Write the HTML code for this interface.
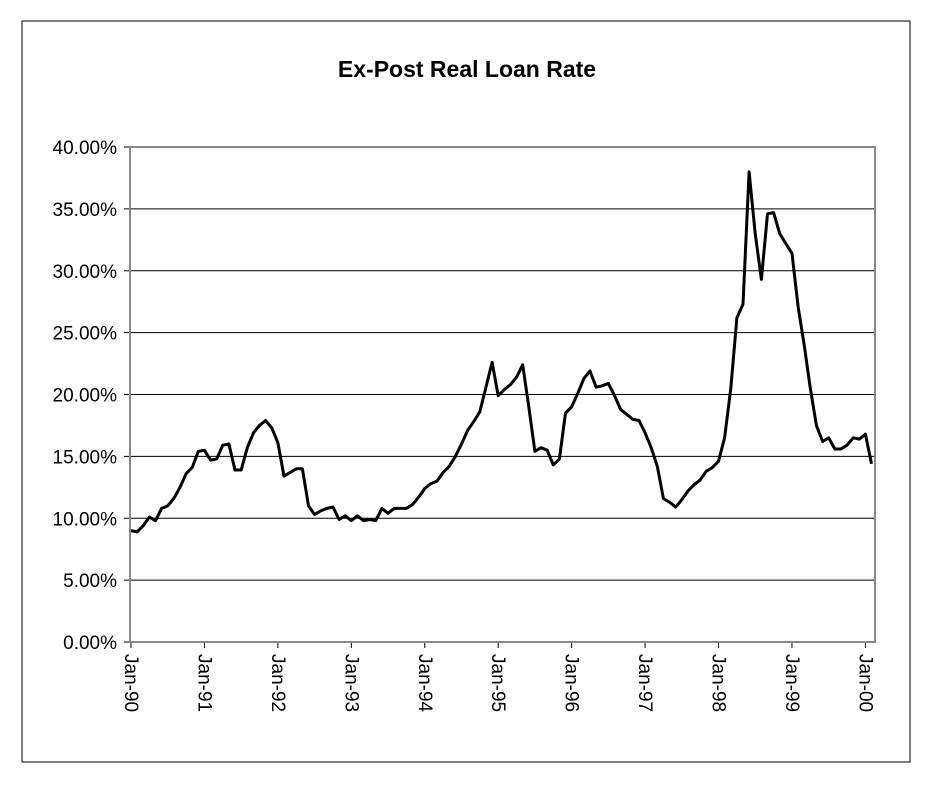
<!DOCTYPE html>
<html><head><meta charset="utf-8"><style>
body{margin:0;background:#fff;}
svg{display:block;font-family:"Liberation Sans",Arial,sans-serif;}
</style></head><body>
<svg id="chart" width="937" height="792">
<rect x="22" y="21" width="888" height="741" fill="none" stroke="#000" stroke-width="1"/>
<text x="467" y="77" text-anchor="middle" font-size="23" font-weight="bold">Ex-Post Real Loan Rate</text>
<g id="grid"></g><g id="yt"></g><g id="xt"></g>
<rect x="130" y="147" width="745" height="495" fill="none" stroke="#888" stroke-width="2"/>
<g id="series"></g>
</svg>
<script>
const yTicks=[0,5,10,15,20,25,30,35,40];
const yearLabels=["Jan-90","Jan-91","Jan-92","Jan-93","Jan-94","Jan-95","Jan-96","Jan-97","Jan-98","Jan-99","Jan-00"];
const rates=[
9.0,8.9,9.4,10.1,9.8,10.8,11.0,11.6,12.5,13.6,14.1,15.4,
15.5,14.7,14.8,15.9,16.0,13.9,13.9,15.7,16.9,17.5,17.9,17.3,
16.1,13.4,13.7,14.0,14.0,11.0,10.3,10.6,10.8,10.9,9.9,10.2,
9.8,10.2,9.8,9.9,9.8,10.8,10.4,10.8,10.8,10.8,11.1,11.7,
12.4,12.8,13.0,13.7,14.2,15.0,16.0,17.1,17.8,18.6,20.6,22.6,
19.9,20.4,20.8,21.4,22.4,19.0,15.4,15.7,15.5,14.3,14.8,18.5,
19.0,20.1,21.3,21.9,20.6,20.7,20.9,19.9,18.8,18.4,18.0,17.9,
16.9,15.7,14.2,11.6,11.3,10.9,11.5,12.2,12.7,13.1,13.8,14.1,
14.6,16.5,20.5,26.2,27.3,38.0,33.0,29.3,34.6,34.7,33.0,32.2,
31.4,27.1,24.0,20.5,17.5,16.2,16.5,15.6,15.6,15.9,16.5,16.4,
16.8,14.4];
const NS="http://www.w3.org/2000/svg";
const x0=131,monthW=6.12,yBase=642,yPer=12.375;
const xS=m=>x0+m*monthW, yS=v=>yBase-v*yPer;
const grid=document.getElementById('grid'),yt=document.getElementById('yt'),xt=document.getElementById('xt'),ser=document.getElementById('series');
yTicks.forEach(v=>{
 const l=document.createElementNS(NS,'line');
 l.setAttribute('x1',124);l.setAttribute('x2',875);l.setAttribute('y1',yS(v));l.setAttribute('y2',yS(v));
 l.setAttribute('stroke','#000');l.setAttribute('stroke-width','1');
 
 
 grid.appendChild(l);
 const t=document.createElementNS(NS,'text');
 t.setAttribute('x',117);t.setAttribute('y',yS(v)+7);t.setAttribute('text-anchor','end');t.setAttribute('font-size','19');
 t.textContent=v.toFixed(2)+'%';
 
 
 yt.appendChild(t);
});
yearLabels.forEach((s,i)=>{
 const x=xS(i*12);
 const l=document.createElementNS(NS,'line');
 l.setAttribute('x1',x);l.setAttribute('x2',x);l.setAttribute('y1',642);l.setAttribute('y2',648);l.setAttribute('stroke','#000');
 
 
 xt.appendChild(l);
 const t=document.createElementNS(NS,'text');
 t.setAttribute('transform','translate('+(x-6)+',654) rotate(90)');t.setAttribute('font-size','19');
 t.textContent=s;
 
 
 xt.appendChild(t);
});
const p=document.createElementNS(NS,'polyline');
p.setAttribute('points',rates.map((v,i)=>xS(i).toFixed(1)+','+yS(v).toFixed(1)).join(' '));
p.setAttribute('fill','none');p.setAttribute('stroke','#000');p.setAttribute('stroke-width','3');p.setAttribute('stroke-linejoin','round');


ser.appendChild(p);
</script>
</body></html>
